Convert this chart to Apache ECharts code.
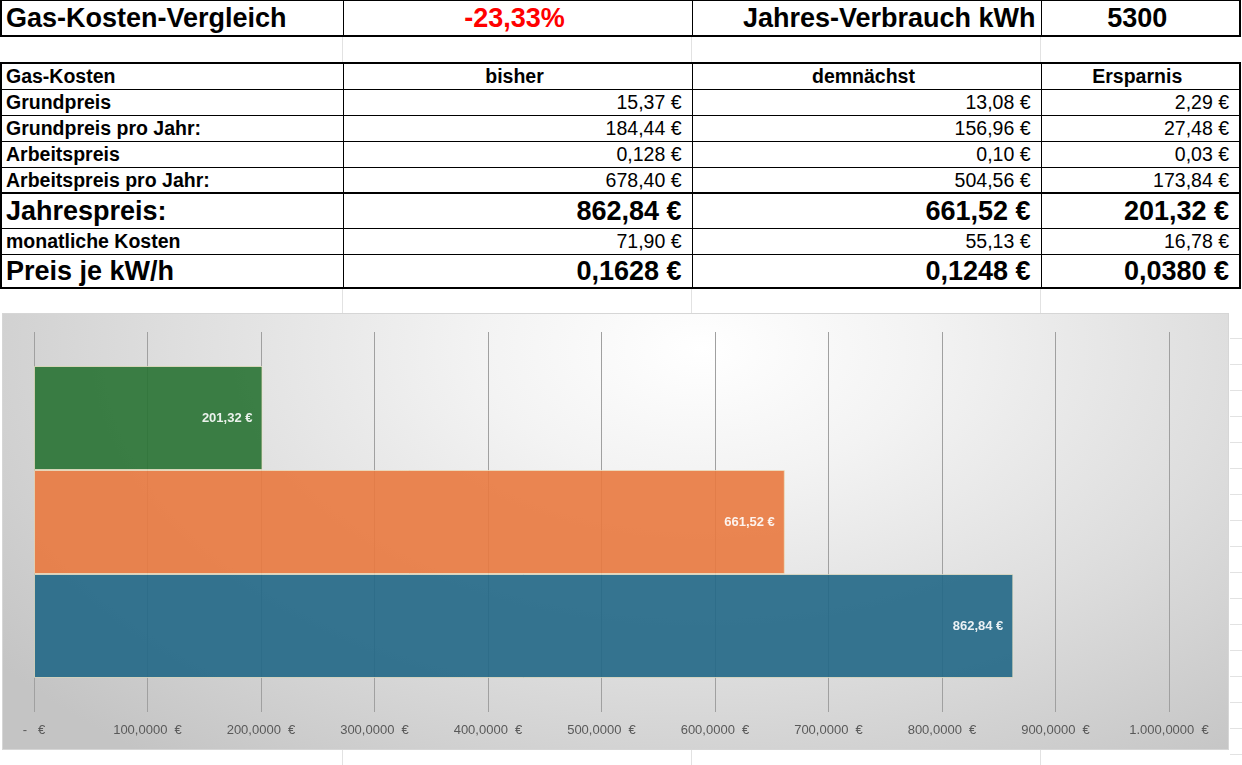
<!DOCTYPE html>
<html>
<head>
    <meta charset="utf-8">
    <style>
        html, body {
            width: 100%;
            height: 100%;
            margin: 0;
            overflow: hidden;
            background: #fff;
        }
        body {
            position: relative;
            font-family: "Liberation Sans", Arial, sans-serif;
        }
        .vline {
            position: absolute;
            top: 0;
            height: 765px;
            width: 1px;
            background: #e2e2e2;
        }
        #right-strip {
            position: absolute;
            left: 1230px;
            top: 313px;
            width: 12px;
            height: 452px;
            background: repeating-linear-gradient(to bottom, transparent 0, transparent 25px, #e2e2e2 25px, #e2e2e2 26px);
        }
        table {
            position: absolute;
            left: 0;
            border-collapse: collapse;
            table-layout: fixed;
            background: #fff;
        }
        td {
            border: 1px solid #000;
            padding: 0 10px 0 4px;
            white-space: nowrap;
            overflow: hidden;
            font-size: 19.5px;
            font-weight: bold;
            color: #000;
            line-height: 1;
            box-sizing: border-box;
        }
        #top-table { top: 0; border: 2px solid #000; border-top-width: 1px; }
        #top-table td { font-size: 27px; height: 35px; padding-top: 2px; }
        #cost-table { top: 62px; border: 2px solid #000; }
        #cost-table td { padding-top: 1px; }
        #cost-table td.num { text-align: right; font-weight: normal; }
        #cost-table tr.big td { font-size: 27px; font-weight: bold; }
        #cost-table tr.sep td { border-top: 2px solid #000; }
        .center { text-align: center; }
        #chart-panel {
            position: absolute;
            left: 2px;
            top: 313px;
            width: 1227px;
            height: 437px;
            box-sizing: border-box;
            border: 1px solid #d6d6d6;
            background: radial-gradient(ellipse 72% 120% at 57% 8%, #ffffff 0%, #f3f3f3 25%, #dedede 60%, #c4c4c4 100%);
        }
    </style>
    <script src="https://cdn.jsdelivr.net/npm/echarts@6/dist/echarts.min.js"></script>
</head>
<body>
<div class="vline" style="left:342px"></div>
<div class="vline" style="left:691px"></div>
<div class="vline" style="left:1040px"></div>
<div id="right-strip"></div>

<table id="top-table">
    <colgroup><col style="width:342px"><col style="width:349px"><col style="width:349px"><col style="width:199px"></colgroup>
    <tr>
        <td id="t-title"></td>
        <td id="t-change" class="center" style="color:#ff0000"></td>
        <td id="t-usage-label" style="text-align:right;padding-right:5px"></td>
        <td id="t-usage" class="center"></td>
    </tr>
</table>

<table id="cost-table">
    <colgroup><col style="width:342px"><col style="width:349px"><col style="width:349px"><col style="width:199px"></colgroup>
    <tbody id="cost-body"></tbody>
</table>

<div id="chart-panel"></div>

<script type="text/javascript">
  // sheet values
  var title = 'Gas-Kosten-Vergleich'
  var changeText = '-23,33%'
  var usageLabel = 'Jahres-Verbrauch kWh'
  var usageValue = '5300'

  var columnHeads = ['Gas-Kosten', 'bisher', 'demnächst', 'Ersparnis']
  var rowLabels = ['Grundpreis', 'Grundpreis pro Jahr:', 'Arbeitspreis', 'Arbeitspreis pro Jahr:',
    'Jahrespreis:', 'monatliche Kosten', 'Preis je kW/h']
  var bisher = ['15,37 €', '184,44 €', '0,128 €', '678,40 €', '862,84 €', '71,90 €', '0,1628 €']
  var demnaechst = ['13,08 €', '156,96 €', '0,10 €', '504,56 €', '661,52 €', '55,13 €', '0,1248 €']
  var ersparnis = ['2,29 €', '27,48 €', '0,03 €', '173,84 €', '201,32 €', '16,78 €', '0,0380 €']

  // chart values (bottom to top)
  var categories = ['bisher', 'demnächst', 'Ersparnis']
  var jahrespreis = [862.84, 661.52, 201.32]

  var barColors = ['#216786', '#e9793f', '#287233']
  var rowHeights = [26, 26, 26, 26, 35, 26, 34]
  var bigRows = [4, 6]

  document.getElementById('t-title').textContent = title
  document.getElementById('t-change').textContent = changeText
  document.getElementById('t-usage-label').textContent = usageLabel
  document.getElementById('t-usage').textContent = usageValue

  var body = document.getElementById('cost-body')
  var head = document.createElement('tr')
  head.style.height = '26px'
  columnHeads.forEach(function (h, i) {
    var td = document.createElement('td')
    td.textContent = h
    if (i > 0) td.className = 'center'
    head.appendChild(td)
  })
  body.appendChild(head)

  rowLabels.forEach(function (label, r) {
    var tr = document.createElement('tr')
    tr.style.height = rowHeights[r] + 'px'
    if (bigRows.indexOf(r) >= 0) tr.className = 'big'
    if (r === 4) tr.className += ' sep'
    var cells = [label, bisher[r], demnaechst[r], ersparnis[r]]
    cells.forEach(function (c, i) {
      var td = document.createElement('td')
      td.textContent = c
      if (i > 0) td.className = 'num'
      tr.appendChild(td)
    })
    body.appendChild(tr)
  })

  function euroTick(v) {
    if (v === 0) return '-   €'
    return v.toLocaleString('de-DE', {minimumFractionDigits: 4, maximumFractionDigits: 4}) + '  €'
  }

  var myChart = echarts.init(document.getElementById('chart-panel'))
  var labelFont = '"Liberation Sans", Arial, sans-serif'
  var gridColor = '#a0a0a0'

  var option = {
    backgroundColor: 'transparent',
    animation: false,
    grid: {left: 31, right: 59, top: 52, bottom: 71},
    xAxis: [
      {
        type: 'value',
        min: 0,
        max: 1000,
        interval: 100,
        position: 'bottom',
        axisLine: {show: false},
        axisTick: {show: true, length: 34, lineStyle: {color: gridColor}},
        axisLabel: {margin: 46, formatter: euroTick, color: '#595959', fontFamily: labelFont, fontSize: 13},
        splitLine: {show: true, lineStyle: {color: gridColor}}
      },
      {
        type: 'value',
        min: 0,
        max: 1000,
        interval: 100,
        position: 'top',
        axisLine: {show: false},
        axisTick: {show: true, length: 34, lineStyle: {color: gridColor}},
        axisLabel: {show: false},
        splitLine: {show: false}
      }
    ],
    yAxis: {
      type: 'category',
      data: categories,
      axisLine: {show: false},
      axisTick: {show: false},
      axisLabel: {show: false}
    },
    series: [
      {
        type: 'bar',
        barWidth: '100%',
        data: jahrespreis.map(function (v, i) {
          return {value: v, itemStyle: {color: barColors[i]}}
        }),
        itemStyle: {opacity: 0.9, borderColor: 'rgba(236,226,196,0.85)', borderWidth: 1},
        label: {
          show: true,
          position: 'insideRight',
          distance: 10,
          color: '#fff',
          fontWeight: 'bold',
          fontFamily: labelFont,
          fontSize: 13,
          formatter: function (p) {
            return p.value.toFixed(2).replace('.', ',') + ' €'
          }
        }
      }
    ]
  }

  myChart.setOption(option)
</script>
</body>
</html>
